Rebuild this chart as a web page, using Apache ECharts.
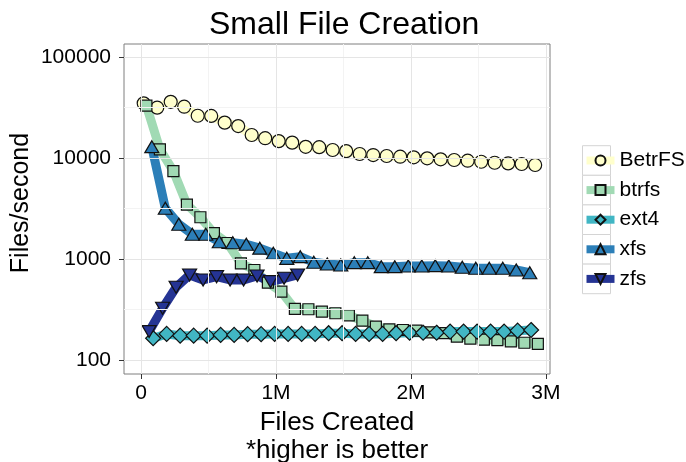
<!DOCTYPE html>
<html><head><meta charset="utf-8">
<script src="https://cdn.jsdelivr.net/npm/echarts@6/dist/echarts.min.js"></script>
<style>html,body{margin:0;padding:0;background:#fff}#c{width:686px;height:462px}</style>
</head><body><div id="c"></div>
<script>
// ---- data (x in millions of files created, y in files/second) ----
const seriesNames = ['BetrFS', 'btrfs', 'ext4', 'xfs', 'zfs'];

const betrfsX = [0.02,0.12,0.22,0.32,0.42,0.52,0.62,0.72,0.82,0.92,1.02,1.12,1.22,1.32,1.42,1.52,1.62,1.72,1.82,1.92,2.02,2.12,2.22,2.32,2.42,2.52,2.62,2.72,2.82,2.92];
const betrfsY = [34800,31500,36000,32200,26200,26100,22400,20700,16900,15700,14700,14200,12900,12800,12000,11700,10960,10700,10470,10300,10160,9930,9700,9550,9400,9180,8970,8850,8720,8530];

const btrfsX = [0.04,0.14,0.24,0.34,0.44,0.54,0.64,0.74,0.84,0.94,1.04,1.14,1.24,1.34,1.44,1.54,1.64,1.74,1.84,1.94,2.04,2.14,2.24,2.34,2.44,2.54,2.64,2.74,2.84,2.94];
const btrfsY = [33000,12200,7430,3460,2590,1800,1440,906,778,582,474,320,318,301,290,276,245,214,201,198,195,188,184,170,163,159,157,153,148,144];

const ext4X = [0.09,0.19,0.29,0.39,0.49,0.59,0.69,0.79,0.89,0.99,1.09,1.19,1.29,1.39,1.49,1.59,1.69,1.79,1.89,1.99,2.09,2.19,2.29,2.39,2.49,2.59,2.69,2.79,2.89];
const ext4Y = [164,181,174,174,174,177,177,180,180,181,181,181,181,184,184,181,181,181,184,186,186,186,191,191,191,191,191,195,198];

const xfsX = [0.08,0.18,0.28,0.38,0.48,0.58,0.68,0.78,0.88,0.98,1.08,1.18,1.28,1.38,1.48,1.58,1.68,1.78,1.88,1.98,2.08,2.18,2.28,2.38,2.48,2.58,2.68,2.78,2.88];
const xfsY = [12950,3180,2210,1760,1760,1480,1450,1400,1280,1140,1015,1055,927,891,872,920,920,840,840,853,853,859,853,828,809,809,809,779,731];

const zfsX = [0.06,0.16,0.26,0.36,0.46,0.56,0.66,0.76,0.86,0.96,1.06,1.16];
const zfsY = [191,325,525,695,620,668,620,620,679,596,644,695];

const xTickValues = [0, 1, 2, 3];
const xTickLabels = ['0', '1M', '2M', '3M'];
const xMinorValues = [0.5, 1.5, 2.5];
const yTickValues = [100, 1000, 10000, 100000];
const yTickLabels = ['100', '1000', '10000', '100000'];
const yMinorExp = [2.5, 3.5, 4.5];

// ---- styles ----
const colors = ['#ffffcc', '#a1dab4', '#41b6c4', '#2c7fb8', '#253494'];
const symbols = ['circle', 'rect', 'diamond', 'triangle', 'triangle'];
const symbolSizes = [13, 11, 15, [14, 12], [14, 12]];
const symbolRotates = [0, 0, 0, 0, 180];
const FONT = '"Liberation Sans", Arial, Helvetica, sans-serif';

const xsAll = [betrfsX, btrfsX, ext4X, xfsX, zfsX];
const ysAll = [betrfsY, btrfsY, ext4Y, xfsY, zfsY];
const yTickExp = yTickValues.map(v => Math.log10(v));

const series = [];
// gridlines (drawn through the axes' scales)
const gl = (c) => ({ color: c, width: 1, type: 'solid', opacity: 1 });
series.push({
  type: 'line', data: [], z: 1, silent: true,
  markLine: {
    silent: true, symbol: 'none', animation: false,
    label: { show: false }, emphasis: { disabled: true },
    data: [
      ...xMinorValues.map(v => ({ xAxis: v, lineStyle: gl('#f3f3f3') })),
      ...yMinorExp.map(v => ({ yAxis: v, lineStyle: gl('#f3f3f3') })),
      ...xTickValues.map(v => ({ xAxis: v, lineStyle: gl('#e5e5e5') })),
      ...yTickExp.map(v => ({ yAxis: v, lineStyle: gl('#e5e5e5') }))
    ]
  }
});
const itemStyles = colors.map(c => ({ color: c, borderColor: '#111', borderWidth: 1.2, opacity: 1 }));
// lines first (all under all points)
seriesNames.forEach((name, i) => {
  series.push({
    name, type: 'line', z: 2, silent: true, animation: false,
    data: xsAll[i].map((x, j) => [x, Math.log10(ysAll[i][j])]),
    showSymbol: false, symbol: symbols[i], symbolSize: symbolSizes[i], symbolRotate: symbolRotates[i],
    itemStyle: itemStyles[i],
    lineStyle: { color: colors[i], width: 9, cap: 'butt', join: 'round', opacity: 1 }
  });
});
seriesNames.forEach((name, i) => {
  series.push({
    name, type: 'scatter', z: 3, silent: true, animation: false,
    data: xsAll[i].map((x, j) => [x, Math.log10(ysAll[i][j])]),
    symbol: symbols[i], symbolSize: symbolSizes[i], symbolRotate: symbolRotates[i],
    itemStyle: itemStyles[i]
  });
});

const legendTop = 150, rowH = 29.6;
const legendBoxes = seriesNames.map((n, i) => ({
  type: 'rect', z: -1, silent: true,
  shape: { x: 582.5, y: legendTop + 10.5 - rowH / 2 + i * rowH, width: 28, height: rowH },
  style: { fill: '#fff', stroke: '#d4d4d4', lineWidth: 1 }
}));

const option = {
  animation: false,
  backgroundColor: '#fff',
  textStyle: { fontFamily: FONT },
  title: {
    text: 'Small File Creation', left: 204, top: 4,
    textStyle: { fontFamily: FONT, fontSize: 32, fontWeight: 'normal', color: '#000' }
  },
  grid: {
    left: 124, right: 136, top: 44, bottom: 88, show: true,
    containLabel: false, outerBoundsMode: 'none',
    borderColor: '#7f7f7f', borderWidth: 1, backgroundColor: '#fff'
  },
  legend: {
    data: seriesNames, orient: 'vertical', left: 582.5, top: legendTop, padding: 0,
    itemWidth: 28, itemHeight: 12.5, itemGap: rowH - 21,
    lineStyle: { width: 8 },
    textStyle: { fontFamily: FONT, fontSize: 21, lineHeight: 21, color: '#000', padding: [0, 0, 0, 0] },
    selectedMode: false
  },
  graphic: legendBoxes,
  xAxis: {
    type: 'value', min: -0.126, max: 3.03,
    axisLine: { show: false, onZero: false },
    axisTick: { show: true, customValues: xTickValues, length: 5, lineStyle: { color: '#333', width: 1 } },
    axisLabel: {
      customValues: xTickValues, margin: 9, fontSize: 21, color: '#000', fontFamily: FONT,
      formatter: v => xTickLabels[xTickValues.indexOf(Math.round(v))] || ''
    },
    splitLine: { show: false },
    name: 'Files Created\n*higher is better', nameLocation: 'middle', nameGap: 27,
    nameTextStyle: { fontFamily: FONT, fontSize: 26, lineHeight: 28, color: '#000' }
  },
  yAxis: {
    type: 'value', min: 1.861, max: 5.129,
    axisLine: { show: false, onZero: false },
    axisTick: { show: true, customValues: yTickExp, length: 5, lineStyle: { color: '#333', width: 1 } },
    axisLabel: {
      customValues: yTickExp, margin: 13, fontSize: 21, color: '#000', fontFamily: FONT,
      formatter: v => yTickLabels[yTickExp.findIndex(t => Math.abs(t - v) < 1e-6)] || ''
    },
    splitLine: { show: false },
    name: 'Files/second', nameLocation: 'middle', nameGap: 90, nameMoveOverlap: false,
    nameTextStyle: { fontFamily: FONT, fontSize: 25, color: '#000', padding: [0, 0, 0, 12] }
  },
  series
};
const chart = echarts.init(document.getElementById('c'), null, { renderer: 'canvas' });
chart.setOption(option);
</script>
</body></html>
